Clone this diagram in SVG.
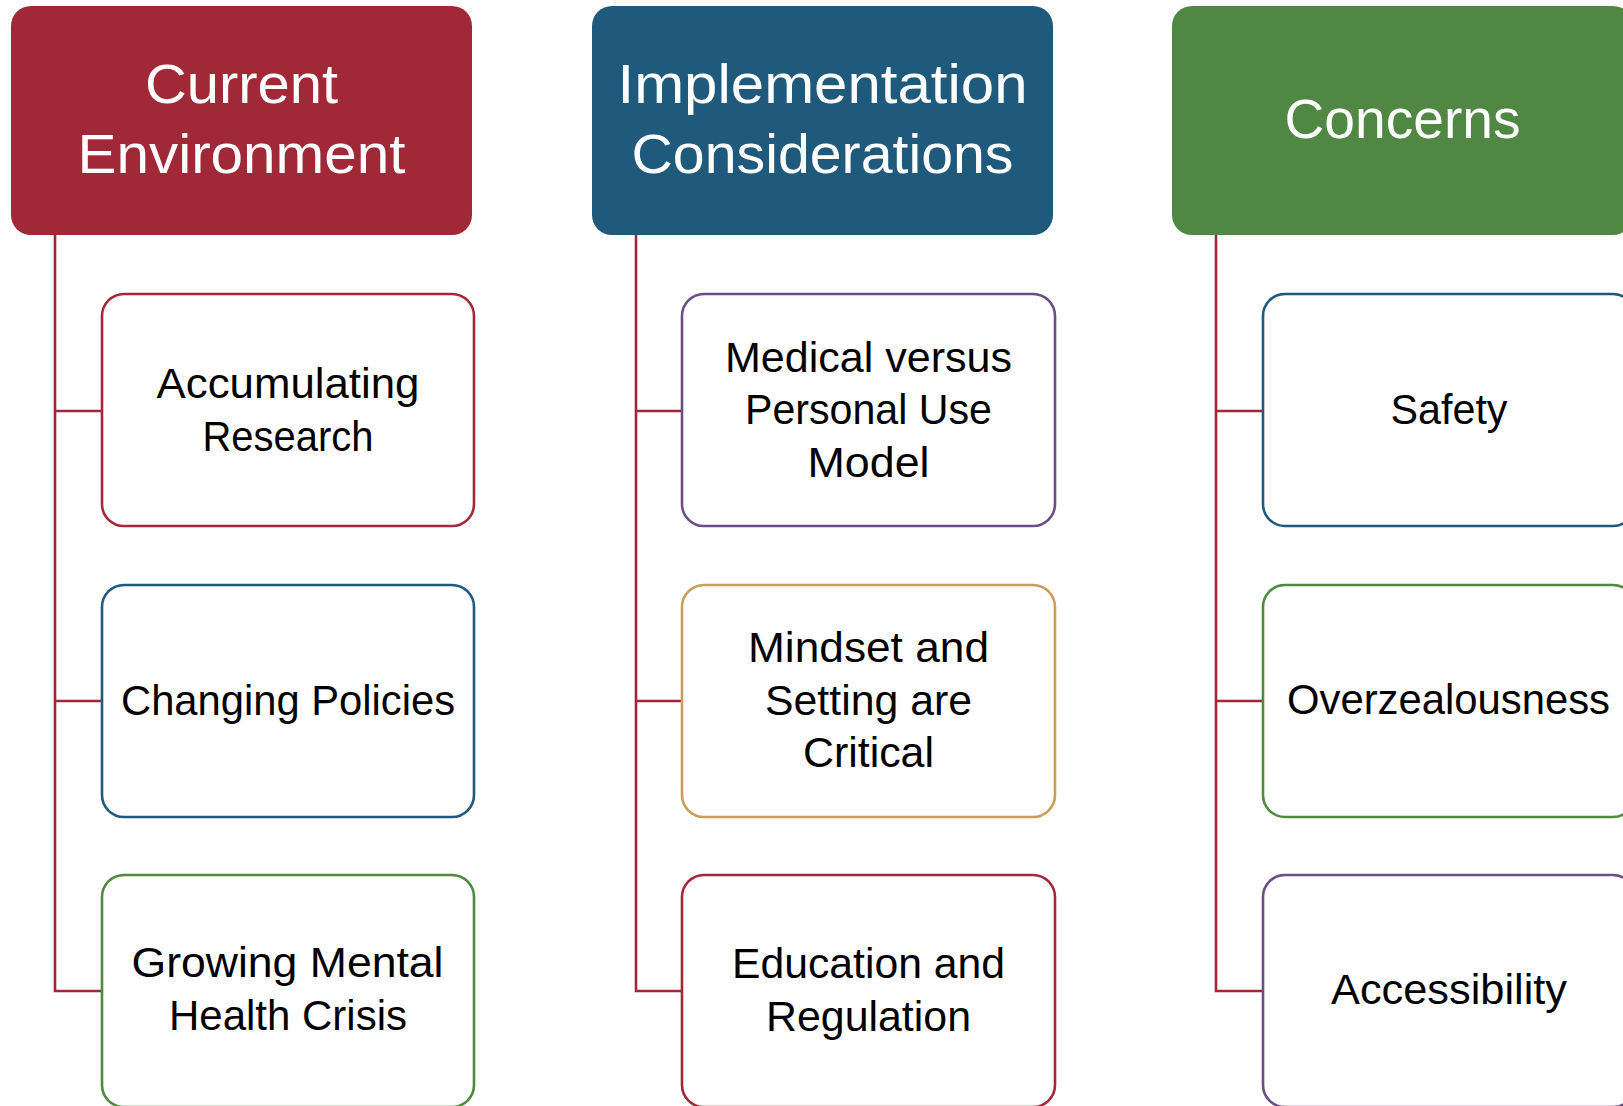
<svg xmlns="http://www.w3.org/2000/svg" width="1623" height="1106" viewBox="0 0 1623 1106">
<style>
.hdr{font-family:"Liberation Sans",Arial,sans-serif;font-size:55px;fill:#FFFFFF;text-anchor:middle}
.lbl{font-family:"Liberation Sans",Arial,sans-serif;font-size:43px;fill:#000000;text-anchor:middle}
.box{fill:#FFFFFF;stroke-width:2.6}
.conn{fill:none;stroke:#A32638;stroke-width:2.6}
</style>
<rect width="1623" height="1106" fill="#FFFFFF"/>
<g id="connectors">
<path class="conn" d="M55 235 V991 H102 M55 411 H102 M55 701 H102"/>
<path class="conn" d="M636 235 V991 H682 M636 411 H682 M636 701 H682"/>
<path class="conn" d="M1216 235 V991 H1263 M1216 411 H1263 M1216 701 H1263"/>
</g>
<g id="hdr-current">
<rect x="11" y="6" width="461" height="229" rx="20" fill="#A12937"/>
<text class="hdr" x="241.5" y="103" textLength="193" lengthAdjust="spacingAndGlyphs">Current</text>
<text class="hdr" x="241.5" y="173" textLength="328" lengthAdjust="spacingAndGlyphs">Environment</text>
</g>
<g id="hdr-implementation">
<rect x="592" y="6" width="461" height="229" rx="20" fill="#1F5A7D"/>
<text class="hdr" x="822.5" y="103" textLength="410" lengthAdjust="spacingAndGlyphs">Implementation</text>
<text class="hdr" x="822.5" y="173" textLength="382" lengthAdjust="spacingAndGlyphs">Considerations</text>
</g>
<g id="hdr-concerns">
<rect x="1172" y="6" width="461" height="229" rx="20" fill="#4F8743"/>
<text class="hdr" x="1402.5" y="138" textLength="236" lengthAdjust="spacingAndGlyphs">Concerns</text>
</g>
<g id="accumulating-research">
<rect class="box" x="102" y="294" width="372" height="232" rx="22" stroke="#A5283A"/>
<text class="lbl" x="288" y="398" textLength="263" lengthAdjust="spacingAndGlyphs">Accumulating</text>
<text class="lbl" x="288" y="451" textLength="171" lengthAdjust="spacingAndGlyphs">Research</text>
</g>
<g id="changing-policies">
<rect class="box" x="102" y="585" width="372" height="232" rx="22" stroke="#1F5A7D"/>
<text class="lbl" x="288" y="715" textLength="334" lengthAdjust="spacingAndGlyphs">Changing Policies</text>
</g>
<g id="growing-crisis">
<rect class="box" x="102" y="875" width="372" height="232" rx="22" stroke="#4F8A3F"/>
<text class="lbl" x="287.5" y="977" textLength="312" lengthAdjust="spacingAndGlyphs">Growing Mental</text>
<text class="lbl" x="288" y="1030" textLength="238" lengthAdjust="spacingAndGlyphs">Health Crisis</text>
</g>
<g id="medical-personal">
<rect class="box" x="682" y="294" width="373" height="232" rx="22" stroke="#6A4E84"/>
<text class="lbl" x="868.5" y="372" textLength="287" lengthAdjust="spacingAndGlyphs">Medical versus</text>
<text class="lbl" x="868.5" y="424" textLength="247" lengthAdjust="spacingAndGlyphs">Personal Use</text>
<text class="lbl" x="868.5" y="477" textLength="122" lengthAdjust="spacingAndGlyphs">Model</text>
</g>
<g id="mindset-setting">
<rect class="box" x="682" y="585" width="373" height="232" rx="22" stroke="#C99D5B"/>
<text class="lbl" x="868.5" y="662" textLength="241" lengthAdjust="spacingAndGlyphs">Mindset and</text>
<text class="lbl" x="868.5" y="715" textLength="207" lengthAdjust="spacingAndGlyphs">Setting are</text>
<text class="lbl" x="868.5" y="767" textLength="131" lengthAdjust="spacingAndGlyphs">Critical</text>
</g>
<g id="education-regulation">
<rect class="box" x="682" y="875" width="373" height="232" rx="22" stroke="#A5283A"/>
<text class="lbl" x="868.5" y="978" textLength="273" lengthAdjust="spacingAndGlyphs">Education and</text>
<text class="lbl" x="868.5" y="1031" textLength="205" lengthAdjust="spacingAndGlyphs">Regulation</text>
</g>
<g id="safety">
<rect class="box" x="1263" y="294" width="372" height="232" rx="22" stroke="#1F5A7D"/>
<text class="lbl" x="1449" y="424" textLength="117" lengthAdjust="spacingAndGlyphs">Safety</text>
</g>
<g id="overzealousness">
<rect class="box" x="1263" y="585" width="372" height="232" rx="22" stroke="#4F8A3F"/>
<text class="lbl" x="1448.5" y="714" textLength="323" lengthAdjust="spacingAndGlyphs">Overzealousness</text>
</g>
<g id="accessibility">
<rect class="box" x="1263" y="875" width="372" height="232" rx="22" stroke="#6A4E84"/>
<text class="lbl" x="1449" y="1004" textLength="236" lengthAdjust="spacingAndGlyphs">Accessibility</text>
</g>
</svg>
